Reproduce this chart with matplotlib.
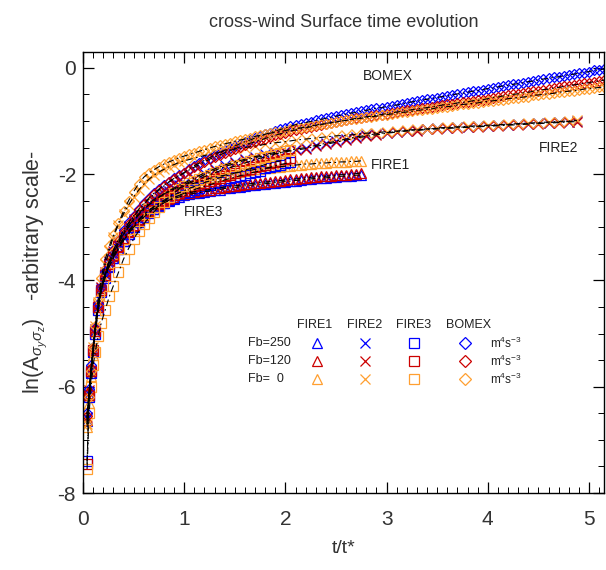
import matplotlib
matplotlib.use("Agg")
import matplotlib.pyplot as plt
from matplotlib.ticker import MultipleLocator

plt.rcParams['font.family'] = ['Liberation Sans', 'DejaVu Sans']
plt.rcParams['mathtext.fontset'] = 'custom'
plt.rcParams['mathtext.rm'] = 'Liberation Sans'
plt.rcParams['mathtext.it'] = 'Liberation Sans:italic'
plt.rcParams['axes.unicode_minus'] = False

# sample times t/t*
t_early = [0.04, 0.06, 0.08, 0.10, 0.12, 0.15, 0.18, 0.22, 0.26, 0.30, 0.35, 0.40,
           0.45, 0.50, 0.55, 0.60, 0.65, 0.70, 0.75, 0.80, 0.85, 0.90, 0.95, 1.00]
t_fine = t_early + [1.05, 1.10, 1.15, 1.20, 1.25, 1.30, 1.35, 1.40, 1.45, 1.50,
                    1.55, 1.60, 1.65, 1.70, 1.75, 1.80, 1.85, 1.90, 1.95, 2.00,
                    2.05, 2.10, 2.15, 2.20, 2.25, 2.30, 2.35, 2.40, 2.45, 2.50,
                    2.55, 2.60, 2.65, 2.70, 2.75, 2.80, 2.85, 2.90, 2.95, 3.00,
                    3.05, 3.10, 3.15, 3.20, 3.25, 3.30, 3.35, 3.40, 3.45, 3.50,
                    3.55, 3.60, 3.65, 3.70, 3.75, 3.80, 3.85, 3.90, 3.95, 4.00,
                    4.05, 4.10, 4.15, 4.20, 4.25, 4.30, 4.35, 4.40, 4.45, 4.50,
                    4.55, 4.60, 4.65, 4.70, 4.75, 4.80, 4.85, 4.90, 4.95, 5.00,
                    5.05, 5.10, 5.15]
t_coarse = t_early + [1.1, 1.2, 1.3, 1.4, 1.5, 1.6, 1.7, 1.8, 1.9, 2.0,
                      2.1, 2.2, 2.3, 2.4, 2.5, 2.6, 2.7, 2.8, 2.9, 3.0,
                      3.1, 3.2, 3.3, 3.4, 3.5, 3.6, 3.7, 3.8, 3.9, 4.0,
                      4.1, 4.2, 4.3, 4.4, 4.5, 4.6, 4.7, 4.8, 4.88]

# ln(A) values, FIRE1 (triangles)
fire1_250 = [-6.65, -6.15, -5.7, -5.3, -4.95, -4.5, -4.18, -3.92, -3.72, -3.57, -3.4, -3.25,
             -3.12, -3.0, -2.9, -2.8, -2.72, -2.65, -2.59, -2.54, -2.5, -2.46, -2.43, -2.4,
             -2.38, -2.36, -2.35, -2.33, -2.32, -2.3, -2.29, -2.27, -2.26, -2.25,
             -2.24, -2.22, -2.21, -2.2, -2.19, -2.18, -2.17, -2.16, -2.15, -2.14,
             -2.13, -2.12, -2.11, -2.1, -2.09, -2.08, -2.07, -2.07, -2.06, -2.05,
             -2.04, -2.04, -2.03, -2.02, -2.02]
fire1_120 = [-6.62, -6.12, -5.67, -5.27, -4.92, -4.47, -4.15, -3.89, -3.69, -3.54, -3.37, -3.22,
             -3.09, -2.97, -2.87, -2.77, -2.69, -2.62, -2.56, -2.51, -2.47, -2.43, -2.4, -2.37,
             -2.35, -2.33, -2.32, -2.3, -2.29, -2.27, -2.26, -2.24, -2.23, -2.22,
             -2.21, -2.19, -2.18, -2.17, -2.16, -2.15, -2.14, -2.13, -2.12, -2.11,
             -2.1, -2.09, -2.08, -2.07, -2.06, -2.05, -2.04, -2.04, -2.03, -2.02,
             -2.01, -2.01, -2.0, -1.99, -1.98]
fire1_0 = [-6.75, -6.3, -5.8, -5.4, -5.0, -4.55, -4.2, -3.9, -3.68, -3.5, -3.3, -3.13,
           -2.98, -2.85, -2.74, -2.64, -2.55, -2.48, -2.42, -2.37, -2.33, -2.29, -2.26, -2.23,
           -2.2, -2.17, -2.14, -2.11, -2.08, -2.06, -2.04, -2.02, -2.0, -1.98,
           -1.96, -1.94, -1.93, -1.91, -1.9, -1.89, -1.88, -1.87, -1.86, -1.85,
           -1.84, -1.83, -1.82, -1.81, -1.81, -1.8, -1.79, -1.79, -1.78, -1.78,
           -1.77, -1.77, -1.76, -1.76, -1.75]

# FIRE2 (crosses)
fire2_250 = [-6.6, -6.1, -5.75, -5.35, -4.95, -4.5, -4.15, -3.88, -3.66, -3.48, -3.3, -3.14,
             -3.0, -2.88, -2.77, -2.67, -2.58, -2.5, -2.43, -2.37, -2.31, -2.26, -2.21, -2.17,
             -2.07, -1.98, -1.9, -1.83, -1.77, -1.72, -1.67, -1.63, -1.59, -1.56,
             -1.53, -1.5, -1.46, -1.42, -1.38, -1.34, -1.3, -1.27, -1.24, -1.22,
             -1.2, -1.18, -1.17, -1.15, -1.14, -1.13, -1.12, -1.11, -1.1, -1.09,
             -1.08, -1.07, -1.06, -1.05, -1.04, -1.03, -1.02, -1.01, -1.0]
fire2_120 = [-6.57, -6.07, -5.72, -5.32, -4.92, -4.47, -4.12, -3.85, -3.63, -3.45, -3.27, -3.11,
             -2.97, -2.85, -2.75, -2.66, -2.58, -2.51, -2.44, -2.38, -2.33, -2.28, -2.24, -2.2,
             -2.1, -2.01, -1.93, -1.86, -1.8, -1.74, -1.69, -1.65, -1.61, -1.58,
             -1.55, -1.52, -1.48, -1.44, -1.4, -1.36, -1.32, -1.29, -1.26, -1.23,
             -1.21, -1.19, -1.18, -1.16, -1.15, -1.14, -1.13, -1.12, -1.11, -1.1,
             -1.09, -1.08, -1.07, -1.06, -1.05, -1.04, -1.03, -1.02, -1.01]
fire2_0 = [-6.7, -6.2, -5.7, -5.25, -4.85, -4.4, -4.05, -3.7, -3.42, -3.18, -2.95, -2.75,
           -2.58, -2.43, -2.3, -2.19, -2.1, -2.02, -1.96, -1.91, -1.86, -1.82, -1.78, -1.75,
           -1.7, -1.65, -1.61, -1.57, -1.53, -1.5, -1.47, -1.44, -1.41, -1.39,
           -1.36, -1.34, -1.32, -1.3, -1.28, -1.27, -1.25, -1.23, -1.22, -1.2,
           -1.19, -1.17, -1.16, -1.15, -1.13, -1.12, -1.11, -1.1, -1.09, -1.08,
           -1.07, -1.06, -1.05, -1.04, -1.03, -1.02, -1.01, -1.0, -0.99]

# FIRE3 (squares)
fire3_250 = [-7.4, -6.2, -5.75, -5.35, -5.0, -4.55, -4.22, -3.95, -3.74, -3.58, -3.4, -3.25,
             -3.12, -3.0, -2.9, -2.81, -2.73, -2.66, -2.6, -2.54, -2.49, -2.44, -2.4, -2.36,
             -2.33, -2.29, -2.26, -2.23, -2.2, -2.17, -2.14, -2.11, -2.08, -2.06,
             -2.03, -2.01, -1.98, -1.96, -1.94, -1.89, -1.87, -1.84, -1.82, -1.8, -1.78]
fire3_120 = [-7.45, -6.15, -5.7, -5.3, -4.95, -4.5, -4.18, -3.9, -3.7, -3.53, -3.35, -3.2,
             -3.07, -2.95, -2.85, -2.76, -2.68, -2.61, -2.55, -2.49, -2.44, -2.39, -2.35, -2.31,
             -2.27, -2.23, -2.2, -2.16, -2.13, -2.1, -2.07, -2.04, -2.01, -1.98,
             -1.95, -1.92, -1.9, -1.87, -1.85, -1.82, -1.8, -1.77, -1.75, -1.72, -1.7]
fire3_0 = [-7.55, -6.5, -6.0, -5.6, -5.35, -5.05, -4.8, -4.55, -4.3, -4.1, -3.85, -3.6,
           -3.4, -3.22, -3.07, -2.94, -2.82, -2.71, -2.61, -2.52, -2.43, -2.35, -2.28, -2.22,
           -2.17, -2.13, -2.09, -2.05, -2.01, -1.98, -1.94, -1.91, -1.88, -1.85,
           -1.82, -1.79, -1.76, -1.73, -1.7, -1.68, -1.65, -1.62, -1.6, -1.57, -1.55]

# BOMEX (diamonds)
bomex_250 = [-6.5, -6.05, -5.6, -5.25, -4.9, -4.45, -4.12, -3.85, -3.62, -3.43, -3.23, -3.06,
             -2.91, -2.78, -2.66, -2.55, -2.45, -2.36, -2.28, -2.21, -2.14, -2.08, -2.02, -1.97,
             -1.9, -1.84, -1.79, -1.74, -1.69, -1.64, -1.6, -1.55, -1.51, -1.47,
             -1.43, -1.39, -1.36, -1.32, -1.29, -1.25, -1.22, -1.19, -1.16, -1.13,
             -1.1, -1.07, -1.05, -1.03, -1.01, -0.99, -0.97, -0.95, -0.93, -0.91,
             -0.89, -0.87, -0.85, -0.84, -0.82, -0.8, -0.78, -0.76, -0.75, -0.73,
             -0.71, -0.7, -0.68, -0.66, -0.64, -0.63, -0.61, -0.59, -0.58, -0.56,
             -0.54, -0.53, -0.51, -0.49, -0.48, -0.46, -0.44, -0.43, -0.41, -0.39,
             -0.38, -0.36, -0.34, -0.33, -0.31, -0.3, -0.28, -0.26, -0.25, -0.23,
             -0.21, -0.2, -0.18, -0.17, -0.15, -0.13, -0.12, -0.1, -0.09, -0.07,
             -0.05, -0.04, -0.02]
bomex_120 = [-6.55, -6.1, -5.65, -5.28, -4.92, -4.48, -4.15, -3.87, -3.64, -3.45, -3.25, -3.08,
             -2.93, -2.8, -2.68, -2.57, -2.47, -2.38, -2.3, -2.22, -2.15, -2.09, -2.03, -1.98,
             -1.92, -1.87, -1.82, -1.77, -1.72, -1.68, -1.64, -1.6, -1.56, -1.52,
             -1.49, -1.45, -1.42, -1.39, -1.36, -1.33, -1.3, -1.27, -1.24, -1.22,
             -1.19, -1.17, -1.15, -1.13, -1.11, -1.09, -1.07, -1.05, -1.04, -1.02,
             -1.0, -0.99, -0.97, -0.95, -0.94, -0.92, -0.91, -0.89, -0.88, -0.86,
             -0.85, -0.83, -0.82, -0.8, -0.79, -0.77, -0.76, -0.75, -0.73, -0.72,
             -0.7, -0.69, -0.68, -0.66, -0.65, -0.64, -0.62, -0.61, -0.6, -0.58,
             -0.56, -0.55, -0.53, -0.52, -0.5, -0.49, -0.47, -0.46, -0.44, -0.43,
             -0.41, -0.4, -0.38, -0.37, -0.35, -0.34, -0.32, -0.31, -0.29, -0.28,
             -0.26, -0.25, -0.23]
bomex_0 = [-6.7, -6.2, -5.7, -5.25, -4.85, -4.35, -3.95, -3.6, -3.35, -3.15, -2.92, -2.7,
           -2.5, -2.33, -2.18, -2.06, -1.98, -1.92, -1.86, -1.81, -1.77, -1.73, -1.69, -1.66,
           -1.63, -1.6, -1.57, -1.54, -1.51, -1.48, -1.46, -1.43, -1.41, -1.38,
           -1.36, -1.34, -1.32, -1.29, -1.27, -1.25, -1.23, -1.21, -1.2, -1.18,
           -1.16, -1.14, -1.13, -1.11, -1.09, -1.08, -1.06, -1.05, -1.03, -1.02,
           -1.0, -0.99, -0.97, -0.96, -0.95, -0.93, -0.92, -0.91, -0.89, -0.88,
           -0.87, -0.85, -0.84, -0.83, -0.82, -0.8, -0.79, -0.78, -0.77, -0.75,
           -0.74, -0.73, -0.72, -0.7, -0.69, -0.68, -0.67, -0.66, -0.64, -0.63,
           -0.62, -0.61, -0.6, -0.58, -0.57, -0.56, -0.55, -0.54, -0.52, -0.51,
           -0.5, -0.49, -0.48, -0.46, -0.45, -0.44, -0.43, -0.42, -0.4, -0.39,
           -0.38, -0.37, -0.36]

cases = ['FIRE1', 'FIRE2', 'FIRE3', 'BOMEX']
fb_labels = ['Fb=250', 'Fb=120', 'Fb=  0']
colors = ['#0000ff', '#cc0000', '#ff9f30']
markers = ['^', 'x', 's', 'D']
series = {
    'FIRE1': (t_fine, [fire1_250, fire1_120, fire1_0]),
    'FIRE2': (t_coarse, [fire2_250, fire2_120, fire2_0]),
    'FIRE3': (t_fine, [fire3_250, fire3_120, fire3_0]),
    'BOMEX': (t_fine, [bomex_250, bomex_120, bomex_0]),
}
msizes = [7, 7, 7, 5]

fig = plt.figure(figsize=(6.06, 5.70), dpi=100)
ax = fig.add_axes([0.137, 0.135, 0.860, 0.774])

for k, case in enumerate(cases):
    t, ys = series[case]
    for y, c in zip(ys, colors):
        ax.plot(t[:len(y)], y, linestyle='none', marker=markers[k],
                ms=msizes[k], mfc='none', mec=c, mew=0.9)
# fitted curves
for case in cases:
    t, ys = series[case]
    for y in ys:
        ax.plot(t[:len(y)], y, color='black', lw=0.8, dashes=(6, 3, 1.5, 3))

# curve labels
lab_kw = dict(fontsize=10, ha='center', va='center', color='#222222')
ax.text(3.01, -0.15, 'BOMEX', **lab_kw)
ax.text(3.04, -1.83, 'FIRE1', **lab_kw)
ax.text(4.70, -1.51, 'FIRE2', **lab_kw)
ax.text(1.19, -2.71, 'FIRE3', **lab_kw)

# marker table
col_x = [2.31, 2.79, 3.27, 3.77]
head_x = [2.29, 2.78, 3.27, 3.81]
row_y = [-5.18, -5.52, -5.86]
for j, case in enumerate(cases):
    ax.text(head_x[j], -4.84, case, fontsize=9, ha='center', va='center', color='#222222')
    for i, c in enumerate(colors):
        ax.plot([col_x[j]], [row_y[i]], linestyle='none', marker=markers[j],
                ms=7.5 if markers[j] != 'D' else 6, mfc='none', mec=c, mew=0.9)
for i in range(3):
    ax.text(1.63, row_y[i], fb_labels[i], fontsize=9, ha='left', va='center', color='#222222')
    ax.text(4.02, row_y[i], r'm$^4$s$^{-3}$', fontsize=8.5, ha='left', va='center', color='#222222')

ax.set_xlim(0, 5.15)
ax.set_ylim(-8, 0.3)
ax.xaxis.set_major_locator(MultipleLocator(1))
ax.xaxis.set_minor_locator(MultipleLocator(0.1))
ax.yaxis.set_major_locator(MultipleLocator(2))
ax.yaxis.set_minor_locator(MultipleLocator(0.5))
ax.tick_params(which='both', direction='in', top=True, right=True, labelsize=15,
               labelcolor='#333333')
ax.tick_params(axis='x', pad=12)
ax.tick_params(axis='y', pad=5)
ax.tick_params(which='major', length=8, width=0.9)
ax.tick_params(which='minor', length=4, width=0.7)
for s in ax.spines.values():
    s.set_linewidth(1)

ax.set_title('cross-wind Surface time evolution', fontsize=13, color='#333333', pad=18)
ax.set_xlabel('t/t*', fontsize=14, color='#333333', labelpad=8)
ax.set_ylabel(r'ln(A$_{\sigma_y\sigma_z}$)   -arbitrary scale-', fontsize=15.5, color='#333333', labelpad=6)

fig.savefig('out.png', dpi=100)
